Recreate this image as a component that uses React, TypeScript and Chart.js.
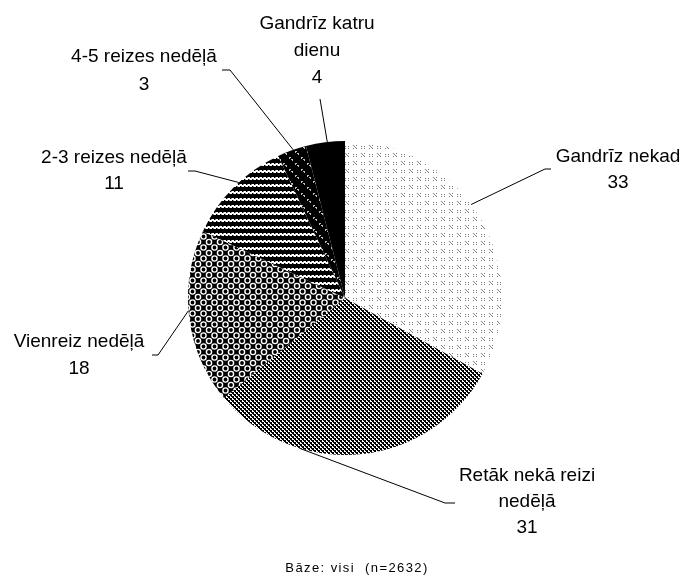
import React, { useEffect, useRef } from "react";
import { Chart, registerables } from "chart.js";

Chart.register(...registerables);

// ---- data ----
const categories = [
  "Gandrīz nekad",
  "Retāk nekā reizi nedēļā",
  "Vienreiz nedēļā",
  "2-3 reizes nedēļā",
  "4-5 reizes nedēļā",
  "Gandrīz katru dienu",
];
const values = [33, 31, 18, 11, 3, 4];
const labelLines = [
  ["Gandrīz nekad"],
  ["Retāk nekā reizi", "nedēļā"],
  ["Vienreiz nedēļā"],
  ["2-3 reizes nedēļā"],
  ["4-5 reizes nedēļā"],
  ["Gandrīz katru", "dienu"],
];
const footnote = "Bāze: visi  (n=2632)";

// ---- label layout (text placement + leader line ends) ----
type LabelLayout = {
  x: number;
  y: number;
  lh: number;
  frac: number;
  elbow: [number, number] | null;
  end: [number, number];
};
const labelLayout: LabelLayout[] = [
  { x: 618, y: 162, lh: 26, frac: 0.45, elbow: [545, 169], end: [551, 169] },
  { x: 527, y: 481, lh: 26, frac: 0.7, elbow: [445, 503], end: [455, 503] },
  { x: 79, y: 347, lh: 27, frac: 0.54, elbow: [158, 355], end: [152, 355] },
  { x: 114, y: 163, lh: 26, frac: 0.56, elbow: [195, 171], end: [188, 171] },
  { x: 144, y: 62, lh: 28, frac: 0.55, elbow: [230, 70], end: [222, 70] },
  { x: 317, y: 29, lh: 27, frac: 0.55, elbow: null, end: [320, 99] },
];

const FONT = '19px "Liberation Sans", Arial, sans-serif';

function makeTile(
  w: number,
  h: number,
  draw: (c: CanvasRenderingContext2D) => void
): CanvasPattern | string {
  const cv = document.createElement("canvas");
  cv.width = w;
  cv.height = h;
  const c = cv.getContext("2d");
  if (!c) return "#888";
  draw(c);
  const p = c.createPattern(cv, "repeat");
  return p || "#888";
}

function buildPatterns(): (CanvasPattern | string)[] {
  // Gandrīz nekad: sparse grey dots on white
  const nekad = makeTile(16, 16, (c) => {
    c.fillStyle = "#fff";
    c.fillRect(0, 0, 16, 16);
    c.fillStyle = "#7a7a7a";
    const px = (x: number, y: number) => c.fillRect(x, y, 1, 1);
    [[1, 1], [4, 1], [2, 2], [3, 3], [1, 4], [4, 4]].forEach(([x, y]) => px(x, y));
    [[9, 2], [9, 4], [12, 2], [12, 4]].forEach(([x, y]) => px(x, y));
    [[9, 9], [12, 9], [10, 10], [11, 11], [9, 12], [12, 12]].forEach(([x, y]) => px(x, y));
    [[1, 10], [1, 12], [4, 10], [4, 12]].forEach(([x, y]) => px(x, y));
  });
  // Retāk: dense checker
  const retak = makeTile(4, 4, (c) => {
    c.fillStyle = "#fff";
    c.fillRect(0, 0, 4, 4);
    c.fillStyle = "#000";
    c.fillRect(0, 0, 2, 2);
    c.fillRect(2, 2, 2, 2);
    c.fillRect(1, 2, 1, 1);
    c.fillRect(3, 0, 1, 1);
  });
  // Vienreiz: white rings on black
  const vienreiz = makeTile(11, 11, (c) => {
    c.fillStyle = "#000";
    c.fillRect(0, 0, 11, 11);
    c.strokeStyle = "#fff";
    c.lineWidth = 1.4;
    const ring = (x: number, y: number) => {
      c.beginPath();
      c.arc(x, y, 2.6, 0, Math.PI * 2);
      c.stroke();
    };
    ring(0, 0);
    ring(11, 0);
    ring(0, 11);
    ring(11, 11);
    ring(5.5, 5.5);
  });
  // 2-3: wavy horizontal white stripes on black
  const twoThree = makeTile(4, 7, (c) => {
    c.fillStyle = "#000";
    c.fillRect(0, 0, 4, 7);
    c.fillStyle = "#fff";
    c.fillRect(0, 3, 4, 1);
    c.fillRect(0, 2, 2, 1);
    c.fillRect(2, 4, 2, 1);
    c.fillStyle = "#999";
    c.fillRect(1, 4, 1, 1);
    c.fillRect(3, 2, 1, 1);
  });
  // 4-5: grey curly marks on black
  const fourFive = makeTile(12, 12, (c) => {
    c.fillStyle = "#000";
    c.fillRect(0, 0, 12, 12);
    c.fillStyle = "#bbb";
    const px = (x: number, y: number) => c.fillRect(x, y, 1, 1);
    [[1, 1], [2, 1], [1, 2], [3, 3], [4, 4], [4, 3]].forEach(([x, y]) => px(x, y));
    [[7, 7], [8, 7], [7, 8], [9, 9], [10, 10], [10, 9]].forEach(([x, y]) => px(x, y));
  });
  return [nekad, retak, vienreiz, twoThree, fourFive, "#000"];
}

const labelPlugin = {
  id: "pieLabels",
  afterDraw(chart: any) {
    const ctx: CanvasRenderingContext2D = chart.ctx;
    const meta = chart.getDatasetMeta(0);
    ctx.save();
    ctx.strokeStyle = "#000";
    ctx.lineWidth = 1;
    meta.data.forEach((arc: any, i: number) => {
      const lay = labelLayout[i];
      const { x, y, startAngle, endAngle, outerRadius } = arc.getProps(
        ["x", "y", "startAngle", "endAngle", "outerRadius"],
        true
      );
      const a = startAngle + lay.frac * (endAngle - startAngle);
      const sx = x + outerRadius * Math.cos(a);
      const sy = y + outerRadius * Math.sin(a);
      ctx.beginPath();
      ctx.moveTo(sx, sy);
      if (lay.elbow) ctx.lineTo(lay.elbow[0], lay.elbow[1]);
      ctx.lineTo(lay.end[0], lay.end[1]);
      ctx.stroke();

      ctx.fillStyle = "#000";
      ctx.font = FONT;
      ctx.textAlign = "center";
      ctx.textBaseline = "alphabetic";
      const lines = [...labelLines[i], String(values[i])];
      lines.forEach((t, k) => ctx.fillText(t, lay.x, lay.y + k * lay.lh));
    });
    // footnote
    ctx.font = '13px "Liberation Sans", Arial, sans-serif';
    (ctx as any).letterSpacing = "1.4px";
    ctx.textAlign = "center";
    ctx.fillText(footnote, 357, 572);
    ctx.restore();
  },
};

export default function App() {
  const ref = useRef<HTMLCanvasElement | null>(null);
  useEffect(() => {
    if (!ref.current) return;
    const patterns = buildPatterns();
    const chart = new Chart(ref.current, {
      type: "pie",
      data: {
        labels: categories,
        datasets: [
          {
            data: values,
            backgroundColor: patterns as any,
            borderColor: "#b0b0b0",
            borderWidth: 0,
          },
        ],
      },
      options: {
        responsive: false,
        maintainAspectRatio: false,
        animation: false,
        layout: { padding: { left: 188, right: 181, top: 141, bottom: 121 } },
        plugins: {
          legend: { display: false },
          tooltip: { enabled: false },
          title: { display: false },
        },
      },
      plugins: [labelPlugin],
    });
    return () => chart.destroy();
  }, []);
  return (
    <div style={{ position: "absolute", left: 0, top: 0, width: 683, height: 576, background: "#fff" }}>
      <canvas ref={ref} width={683} height={576} />
    </div>
  );
}
